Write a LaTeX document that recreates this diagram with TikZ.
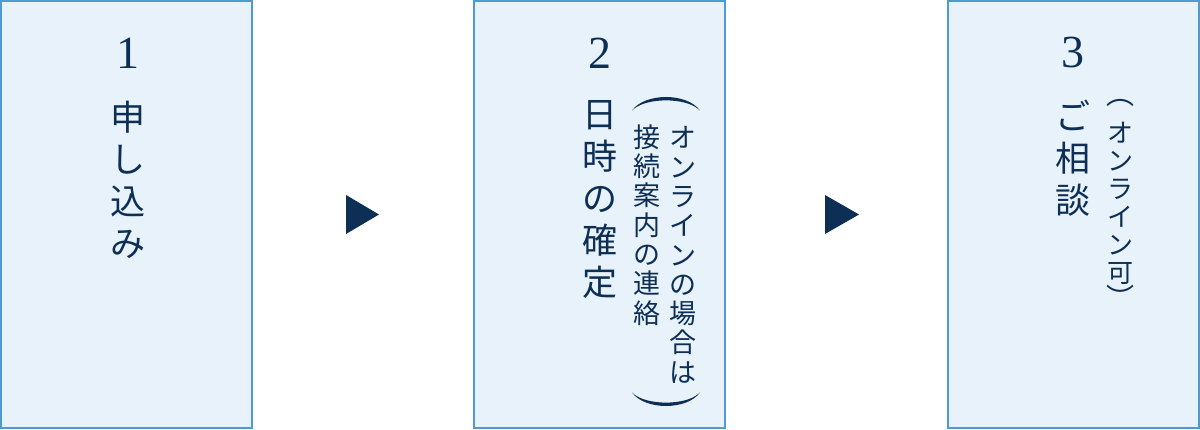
\documentclass[tikz,border=0pt]{standalone}
\usepackage{fontspec}
\newfontfamily\jpfont{Noto Sans CJK JP}
\newfontfamily\digitfont{Liberation Serif}
\definecolor{navy}{HTML}{0E2F55}
\definecolor{boxfill}{HTML}{E8F2FA}
\definecolor{boxline}{HTML}{4E9BD3}
\begin{document}
\begin{tikzpicture}[x=1pt,y=-1pt,
  stepbox/.style={draw=boxline, fill=boxfill, line width=1.5pt, minimum width=251pt, minimum height=427pt, inner sep=0pt, outer sep=0pt},
  numtext/.style={text=navy, font=\digitfont\fontsize{46}{46}\selectfont, inner sep=0pt},
  maincol/.style={text=navy, font=\jpfont\fontsize{35}{42}\selectfont, align=center, inner sep=0pt},
  subcol/.style={text=navy, font=\jpfont\fontsize{27}{29.3}\selectfont, align=center, inner sep=0pt},
  smallcol/.style={text=navy, font=\jpfont\fontsize{26}{28}\selectfont, align=center, inner sep=0pt},
  paren/.style={text=navy, font=\jpfont\fontsize{28}{28}\selectfont, inner sep=0pt},
  bigparen/.style={fill=navy},
  tri/.style={fill=navy}]
\useasboundingbox (0,0) rectangle (1200,430);
\fill[white] (0,0) rectangle (1200,430);
% boxes
\node[stepbox] (b1) at (126.5,214.5) {};
\node[stepbox] (b2) at (599.5,214.5) {};
\node[stepbox] (b3) at (1073.5,214.5) {};
% triangles
\fill[tri] (346,195) -- (379,214.5) -- (346,234) -- cycle;
\fill[tri] (825,195) -- (859,214.5) -- (825,234) -- cycle;
% box 1
\node[numtext] (n1) at (128,53) {1};
\node[maincol] (c1) at (128,179.5) {申\\し\\込\\み};
% box 2
\node[numtext] (n2) at (600,53) {2};
\node[maincol] (c2) at (600,199) {日\\時\\の\\確\\定};
\fill[bigparen] (632,110.5) .. controls (645,92.5) and (687,92.5) .. (700,110.5)
  .. controls (687,97) and (645,97) .. cycle;
\node[subcol] (s2a) at (683,255) {オ\\ン\\ラ\\イ\\ン\\の\\場\\合\\は};
\node[subcol] (s2b) at (647,225) {接\\続\\案\\内\\の\\連\\絡};
\fill[bigparen] (632,392.5) .. controls (645,410.5) and (687,410.5) .. (700,392.5)
  .. controls (687,406) and (645,406) .. cycle;
% box 3
\node[numtext] (n3) at (1073,52) {3};
\node[maincol] (c3) at (1073,158.5) {ご\\相\\談};
\node[paren] (p3a) at (1120.5,103) {︵};
\node[smallcol] (s3) at (1120,203.5) {オ\\ン\\ラ\\イ\\ン\\可};
\node[paren] (p3b) at (1120,296.5) {︶};
\end{tikzpicture}
\end{document}
